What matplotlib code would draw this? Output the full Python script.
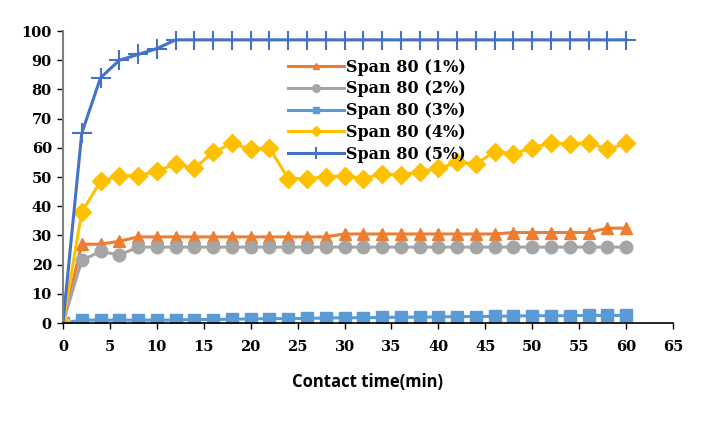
import numpy as np
import matplotlib.pyplot as plt

tiempo = list(range(0, 62, 2))

span_1 = [0, 27, 27, 28, 29.5, 29.5, 29.5, 29.5, 29.5, 29.5, 29.5, 29.5, 29.5, 29.5, 29.5,
          30.5, 30.5, 30.5, 30.5, 30.5, 30.5, 30.5, 30.5, 30.5, 31, 31, 31, 31, 31, 32.5, 32.5]
span_2 = [0, 21.5, 24.5, 23.3, 26, 26, 26, 26, 26, 26, 26, 26, 26, 26, 26,
          26, 26, 26, 26, 26, 26, 26, 26, 26, 26, 26, 26, 26, 26, 26, 26]
span_3 = [0, 1, 1, 1, 1, 1, 1, 1.2, 1.2, 1.3, 1.4, 1.5, 1.5, 1.6, 1.7,
          1.8, 1.8, 1.9, 2, 2, 2.1, 2.2, 2.2, 2.3, 2.4, 2.5, 2.5, 2.5, 2.6, 2.6, 2.6]
span_4 = [0, 38, 48.5, 50.5, 50.5, 52, 54.5, 53, 58.5, 61.5, 59.5, 60, 49.5, 49.5, 50,
          50.5, 49.5, 51, 50.7, 51.8, 53, 55, 54.5, 58.7, 58, 60, 61.7, 61.3, 61.7, 59.5, 61.5]
span_5 = [0, 65, 84, 90, 92, 94, 97, 97, 97, 97, 97, 97, 97, 97, 97,
          97, 97, 97, 97, 97, 97, 97, 97, 97, 97, 97, 97, 97, 97, 97, 97]

series = [
    ("Span 80 (1%)", span_1, "#ED7D31", "^", 8, 1),
    ("Span 80 (2%)", span_2, "#A5A5A5", "o", 9, 1),
    ("Span 80 (3%)", span_3, "#5B9BD5", "s", 8, 1),
    ("Span 80 (4%)", span_4, "#FFC000", "D", 9, 1),
    ("Span 80 (5%)", span_5, "#4472C4", "+", 14, 1.5),
]

fig = plt.figure(figsize=(7.02, 4.32), dpi=100)
ax = fig.add_axes([0.0897, 0.2523, 0.869, 0.6757])

for nombre, valores, color, marcador, tam, mew in series:
    ax.plot(tiempo, valores, color=color, marker=marcador, markersize=tam,
            markeredgewidth=mew, linewidth=2.2, label=nombre)

ax.set_xlim(0, 65)
ax.set_ylim(0, 100)
ax.set_xticks(range(0, 70, 5))
ax.set_yticks(range(0, 110, 10))

fuente = {"family": "DejaVu Serif", "weight": "bold", "size": 10.5}
ax.set_xticklabels([str(v) for v in range(0, 70, 5)], fontdict=fuente)
ax.set_yticklabels([str(v) for v in range(0, 110, 10)], fontdict=fuente)

for lado in ["top", "right"]:
    ax.spines[lado].set_visible(False)
ax.spines["left"].set_color("#7f7f7f")
ax.spines["left"].set_linewidth(1.5)
ax.spines["bottom"].set_color("black")
ax.spines["bottom"].set_linewidth(1.2)
ax.tick_params(axis="both", length=4, width=1)
ax.tick_params(axis="x", pad=8)
ax.tick_params(axis="y", pad=4, color="black")

ax.set_xlabel("Contact time(min)", fontsize=12, fontweight="bold",
              family="Open Sans", labelpad=14)

leyenda = ax.legend(loc="upper left", bbox_to_anchor=(0.345, 0.955), frameon=False,
                    prop={"family": "DejaVu Serif", "weight": "bold", "size": 11.5},
                    handlelength=3.5, handletextpad=0.15, labelspacing=0.3,
                    markerscale=0.6)

fig.savefig("out.png", dpi=100)
